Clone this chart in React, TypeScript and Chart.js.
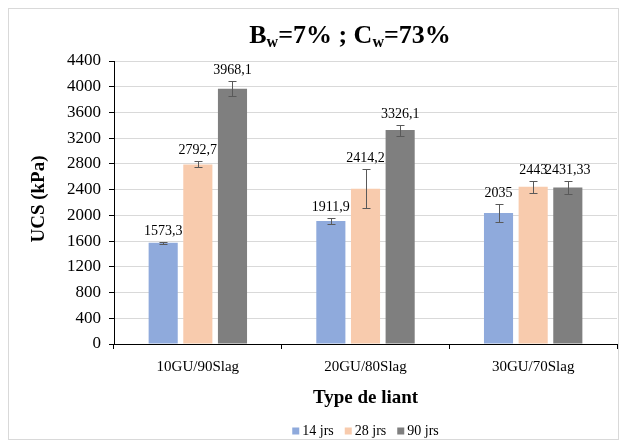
import React, { useEffect, useRef } from "react";
import { Chart, registerables } from "chart.js";

Chart.register(...registerables);

const categories = ["10GU/90Slag", "20GU/80Slag", "30GU/70Slag"];
const seriesNames = ["14 jrs", "28 jrs", "90 jrs"];
const ucs14 = [1573.3, 1911.9, 2035];
const ucs28 = [2792.7, 2414.2, 2443];
const ucs90 = [3968.1, 3326.1, 2431.33];
const err14 = [20, 45, 140];
const err28 = [45, 300, 90];
const err90 = [120, 85, 105];
const labels14 = ["1573,3", "1911,9", "2035"];
const labels28 = ["2792,7", "2414,2", "2443"];
const labels90 = ["3968,1", "3326,1", "2431,33"];
const yMax = 4400;
const yStep = 400;
const colors = ["#8FAADC", "#F8CBAD", "#7F7F7F"];

const FONT = "'Liberation Serif', 'Times New Roman', serif";

const overlay = {
  id: "overlay",
  afterDatasetsDraw(chart: any) {
    const ctx = chart.ctx;
    const y = chart.scales.y;
    ctx.save();
    chart.data.datasets.forEach((ds: any, i: number) => {
      const meta = chart.getDatasetMeta(i);
      meta.data.forEach((bar: any, j: number) => {
        const v = ds.data[j];
        const e = ds.errors[j];
        const yt = Math.round(y.getPixelForValue(v + e)) + 0.5;
        const yb = Math.round(y.getPixelForValue(v - e)) + 0.5;
        const x = Math.round(bar.x) + 0.5;
        ctx.strokeStyle = "#595959";
        ctx.lineWidth = 1;
        ctx.beginPath();
        ctx.moveTo(x, yt);
        ctx.lineTo(x, yb);
        ctx.moveTo(x - 4, yt);
        ctx.lineTo(x + 4, yt);
        ctx.moveTo(x - 4, yb);
        ctx.lineTo(x + 4, yb);
        ctx.stroke();
        ctx.fillStyle = "#000";
        ctx.font = `14px ${FONT}`;
        ctx.textAlign = "center";
        ctx.textBaseline = "middle";
        ctx.fillText(ds.valueLabels[j], bar.x, yt - 11);
      });
    });
    ctx.restore();
  },
  afterDraw(chart: any) {
    const ctx = chart.ctx;
    const W = chart.width;
    const H = chart.height;
    ctx.save();
    ctx.strokeStyle = "#D9D9D9";
    ctx.lineWidth = 1;
    ctx.strokeRect(0.5, 0.5, W - 1, H - 1);

    const parts: [string, boolean][] = [
      ["B", false],
      ["w", true],
      ["=7% ; C", false],
      ["w", true],
      ["=73%", false],
    ];
    const big = `bold 26px ${FONT}`;
    const small = `bold 16px ${FONT}`;
    let total = 0;
    parts.forEach(([t, s]) => {
      ctx.font = s ? small : big;
      total += ctx.measureText(t).width;
    });
    let tx = 342 - total / 2;
    const tb = 35;
    ctx.fillStyle = "#000";
    ctx.textAlign = "left";
    ctx.textBaseline = "alphabetic";
    parts.forEach(([t, s]) => {
      ctx.font = s ? small : big;
      ctx.fillText(t, tx, s ? tb + 4 : tb);
      tx += ctx.measureText(t).width;
    });

    ctx.save();
    ctx.translate(31, 191);
    ctx.rotate(-Math.PI / 2);
    ctx.font = `bold 19px ${FONT}`;
    ctx.textAlign = "center";
    ctx.textBaseline = "middle";
    ctx.fillText("UCS (kPa)", 0, 0);
    ctx.restore();

    ctx.font = `bold 19px ${FONT}`;
    ctx.textAlign = "center";
    ctx.textBaseline = "middle";
    const ca = chart.chartArea;
    ctx.fillText("Type de liant", (ca.left + ca.right) / 2, 390);

    ctx.font = `14px ${FONT}`;
    const box = 7;
    const gapBox = 3;
    const gapItem = 11;
    let lw = 0;
    seriesNames.forEach((n, i) => {
      lw += box + gapBox + ctx.measureText(n).width + (i < seriesNames.length - 1 ? gapItem : 0);
    });
    let lx = (ca.left + ca.right) / 2 - lw / 2;
    const ly = 423;
    ctx.textAlign = "left";
    seriesNames.forEach((n, i) => {
      ctx.fillStyle = colors[i];
      ctx.fillRect(lx, ly - box / 2, box, box);
      lx += box + gapBox;
      ctx.fillStyle = "#000";
      ctx.fillText(n, lx, ly);
      lx += ctx.measureText(n).width + gapItem;
    });
    ctx.restore();
  },
};

export default function App() {
  const ref = useRef<HTMLCanvasElement>(null);
  useEffect(() => {
    if (!ref.current) return;
    Chart.defaults.font.family = FONT;
    const chart = new Chart(ref.current, {
      type: "bar",
      data: {
        labels: categories,
        datasets: [
          { label: seriesNames[0], data: ucs14, errors: err14, valueLabels: labels14, backgroundColor: colors[0] },
          { label: seriesNames[1], data: ucs28, errors: err28, valueLabels: labels28, backgroundColor: colors[1] },
          { label: seriesNames[2], data: ucs90, errors: err90, valueLabels: labels90, backgroundColor: colors[2] },
        ] as any,
      },
      options: {
        animation: false,
        responsive: true,
        maintainAspectRatio: false,
        layout: { padding: { top: 53, right: 2, left: 0, bottom: 66 } },
        datasets: { bar: { categoryPercentage: 0.62, barPercentage: 0.84 } },
        plugins: { legend: { display: false }, title: { display: false }, tooltip: { enabled: false } },
        scales: {
          x: {
            afterFit: (s: any) => { s.height = 30; },
            grid: { display: true, drawOnChartArea: false, drawTicks: true, tickLength: 5, color: "#000", offset: true },
            border: { display: true, color: "#000", width: 1 },
            ticks: { color: "#000", font: { size: 15, family: FONT }, padding: 9 },
          },
          y: {
            min: 0,
            max: yMax,
            afterFit: (s: any) => { s.width = 106; },
            grid: { color: "#D9D9D9", tickColor: "#000", tickLength: 5, drawTicks: true },
            border: { display: true, color: "#000", width: 1 },
            ticks: {
              stepSize: yStep,
              color: "#000",
              font: { size: 17, family: FONT },
              padding: 8,
              callback: (v: any) => String(v),
            },
          },
        },
      },
      plugins: [overlay],
    } as any);
    return () => chart.destroy();
  }, []);
  return (
    <div style={{ position: "relative", width: 611, height: 432 }}>
      <canvas ref={ref} />
    </div>
  );
}
